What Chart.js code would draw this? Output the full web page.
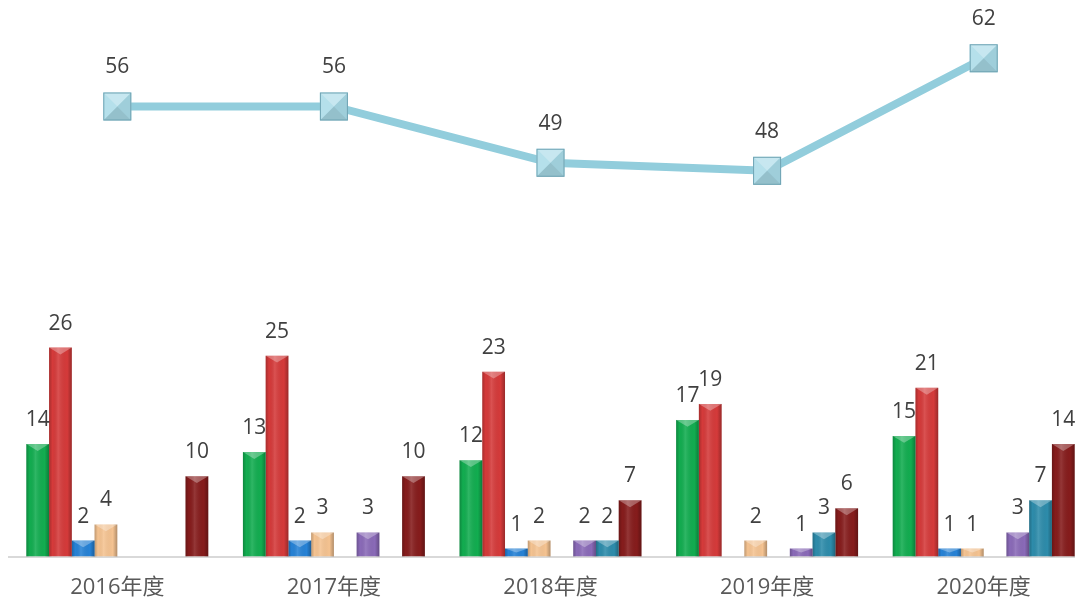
<!DOCTYPE html>
<html>
<head>
<meta charset="utf-8">
<script src="https://cdn.jsdelivr.net/npm/chart.js@4/dist/chart.umd.min.js"></script>
<style>
  html, body { margin: 0; padding: 0; background: #fff; overflow: hidden; }
  #wrap { position: relative; width: 1092px; height: 620px; }
</style>
</head>
<body>
<div id="wrap"><canvas id="mixChart"></canvas></div>
<script>
// 데이터
const years = ['2016年度', '2017年度', '2018年度', '2019年度', '2020年度'];
const greenVals  = [14, 13, 12, 17, 15];
const redVals    = [26, 25, 23, 19, 21];
const blueVals   = [2, 2, 1, null, 1];
const peachVals  = [4, 3, 2, 2, 1];
const emptyVals  = [null, null, null, null, null];
const purpleVals = [null, 3, 2, 1, 3];
const tealVals   = [null, null, 2, 3, 7];
const maroonVals = [10, 10, 7, 6, 14];
const totalVals  = [56, 56, 49, 48, 62];

const barSeries = [
  { data: greenVals,  color: '#12ad50' },
  { data: redVals,    color: '#d53a3a' },
  { data: blueVals,   color: '#2682d6' },
  { data: peachVals,  color: '#f5c391' },
  { data: emptyVals,  color: '#bbbbbb' },
  { data: purpleVals, color: '#8a6ab8' },
  { data: tealVals,   color: '#2d8cab' },
  { data: maroonVals, color: '#861c1c' }
];

// 라벨 + 입체 효과 (마커도 여기서 그림)
const decoPlugin = {
  id: 'deco',
  afterDatasetsDraw(chart) {
    const ctx = chart.ctx;
    chart.data.datasets.forEach((ds, i) => {
      const meta = chart.getDatasetMeta(i);
      meta.data.forEach((el, j) => {
        const v = ds.data[j];
        if (v === null || v === undefined) return;
        if (ds.type === 'line') {
          const s = 14;
          const x = el.x, y = el.y;
          ctx.save();
          ctx.fillStyle = '#a9dbe8';
          ctx.fillRect(x - s, y - s, 2 * s, 2 * s);
          const tri = (pts, c) => {
            ctx.beginPath();
            ctx.moveTo(x, y);
            pts.forEach(p => ctx.lineTo(p[0], p[1]));
            ctx.closePath();
            ctx.fillStyle = c;
            ctx.fill();
          };
          tri([[x - s, y - s], [x + s, y - s]], 'rgba(255,255,255,0.35)');
          tri([[x + s, y - s], [x + s, y + s]], 'rgba(0,0,0,0.06)');
          tri([[x + s, y + s], [x - s, y + s]], 'rgba(0,0,0,0.12)');
          tri([[x - s, y + s], [x - s, y - s]], 'rgba(255,255,255,0.15)');
          ctx.strokeStyle = '#6ea3b3';
          ctx.lineWidth = 1;
          ctx.strokeRect(x - s + 0.5, y - s + 0.5, 2 * s - 1, 2 * s - 1);
          ctx.restore();
          drawLabel(ctx, v, x, y - 39);
        } else {
          const p = el.getProps(['x', 'y', 'base', 'width'], true);
          const l = p.x - p.width / 2, r = p.x + p.width / 2;
          const top = Math.min(p.y, p.base), bot = Math.max(p.y, p.base);
          ctx.save();
          const g = ctx.createLinearGradient(l, 0, r, 0);
          g.addColorStop(0, 'rgba(0,0,0,0.22)');
          g.addColorStop(0.15, 'rgba(0,0,0,0)');
          g.addColorStop(0.4, 'rgba(255,255,255,0.12)');
          g.addColorStop(0.8, 'rgba(0,0,0,0)');
          g.addColorStop(1, 'rgba(0,0,0,0.28)');
          ctx.fillStyle = g;
          ctx.fillRect(l, top, r - l, bot - top);
          const h = Math.min(p.width * 0.3, (bot - top) / 2);
          ctx.beginPath();
          ctx.moveTo(l, top);
          ctx.lineTo(r, top);
          ctx.lineTo(p.x, top + h);
          ctx.closePath();
          ctx.fillStyle = 'rgba(255,255,255,0.3)';
          ctx.fill();
          ctx.restore();
          drawLabel(ctx, v, p.x, top - 24);
        }
      });
    });
  }
};

function drawLabel(ctx, v, x, y) {
  ctx.save();
  ctx.font = '21px "Open Sans", "Noto Sans", sans-serif';
  ctx.fillStyle = '#404040';
  ctx.textAlign = 'center';
  ctx.textBaseline = 'middle';
  ctx.fillText(String(v), x, y);
  ctx.restore();
}

window.onload = function () {
  const datasets = [{
    type: 'line',
    data: totalVals,
    borderColor: '#92cddc',
    borderWidth: 8,
    pointRadius: 0,
    pointBorderWidth: 0,
    pointHoverRadius: 0,
    tension: 0,
    order: 0
  }];
  barSeries.forEach(s => {
    datasets.push({
      type: 'bar',
      data: s.data,
      backgroundColor: s.color,
      borderWidth: 0,
      categoryPercentage: 0.84,
      barPercentage: 1,
      order: 1
    });
  });

  new Chart(document.getElementById('mixChart'), {
    data: { labels: years, datasets: datasets },
    options: {
      responsive: true,
      maintainAspectRatio: false,
      animation: false,
      layout: { padding: { left: 9, right: 0, top: 2, bottom: 1 } },
      plugins: { legend: { display: false }, tooltip: { enabled: false } },
      scales: {
        x: {
          grid: { display: false, drawTicks: false },
          border: { display: true, color: '#d9d9d9', width: 2 },
          ticks: {
            padding: 18,
            color: '#595959',
            font: { size: 22, family: '"Open Sans", "Noto Sans CJK SC", sans-serif' }
          }
        },
        y: { display: false, min: 0, max: 69 }
      }
    },
    plugins: [decoPlugin]
  });
};
</script>
</body>
</html>
